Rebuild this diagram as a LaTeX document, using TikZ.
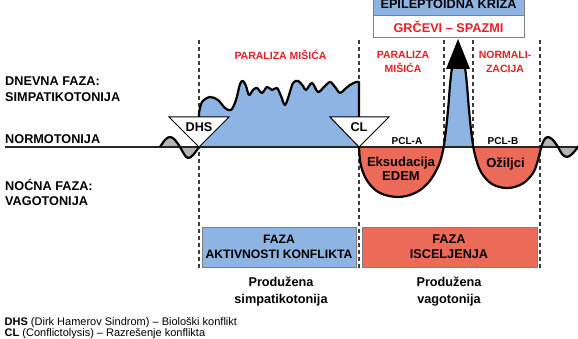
\documentclass[tikz,border=0pt]{standalone}
\usepackage{fontspec}
\setmainfont{Liberation Sans}
\definecolor{fblue}{RGB}{141,180,226}
\definecolor{fred}{RGB}{236,106,88}
\definecolor{tred}{RGB}{232,30,40}
\definecolor{fgray}{RGB}{180,180,180}
\definecolor{lgray}{RGB}{60,60,60}
\begin{document}
\begin{tikzpicture}[x=1pt,y=-1pt,
  big/.style={font=\bfseries\fontsize{12.7}{16}\selectfont, inner sep=0pt},
  side/.style={big, anchor=west, align=left},
  redlbl/.style={font=\bfseries\fontsize{10.5}{14}\selectfont, text=tred, align=center, inner sep=0pt},
  pcl/.style={font=\bfseries\fontsize{10}{12}\selectfont, inner sep=0pt},
  curve/.style={line width=2.2pt, black, line join=round},
  vdash/.style={lgray, line width=1.4pt, dash pattern=on 4pt off 3pt},
  phase/.style={draw=gray, line width=0.8pt},
  tri/.style={draw=black, fill=white, line width=1pt, line join=miter},
  note/.style={font=\fontsize{11}{12}\selectfont, anchor=west, inner sep=0pt}]
\useasboundingbox (0,0) rectangle (578,339);
\clip (0,0) rectangle (578,339);

% dashed separators
\coordinate (d1t) at (199,40); \coordinate (d1b) at (199,268);
\coordinate (d2t) at (359,40); \coordinate (d2b) at (359,268);
\coordinate (d3t) at (444,40); \coordinate (d3b) at (444,147);
\coordinate (d4t) at (473,40); \coordinate (d4b) at (473,147);
\coordinate (d5t) at (540,40); \coordinate (d5b) at (540,268);
\foreach \i in {1,...,5} \draw[vdash] (d\i t) -- (d\i b);

% left gray wave
\def\lwave{plot[smooth,tension=0.7] coordinates {(160,147)(165,140)(170,137)(175,140)(180,147)(184,154)(188,158)(193,155)(199,147)}}
\fill[fgray] \lwave -- cycle;

% plateau
\def\plateau{(199,147) -- plot[smooth,tension=0.55] coordinates {(199,113)(202,102)(210,97)(218,100)(225,108)(231,110)(236,100)(240,84)(243,81)(246,86)(249,95)(253,90)(257,88)(262,93)(267,87)(272,90)(277,88)(281,96)(285,105)(289,95)(293,83)(298,81)(303,86)(306,90)(312,83)(318,92)(324,87)(330,82)(335,87)(340,93)(345,89)(350,85)(356,82)(359,82)} -- (359,147)}
\fill[fblue] \plateau -- cycle;

% right part
\def\rpath{plot[smooth,tension=0.6] coordinates {(359,147)(361,166)(368,182)(380,193)(398,197)(415,193)(428,183)(437,169)(442,155)(445,138)(448,110)(450,85)(452,67)} -- (465,67) -- plot[smooth,tension=0.6] coordinates {(465,67)(467,85)(469,110)(472,138)(475,155)(481,172)(492,184)(507,188)(522,184)(533,173)(538,160)(541,148)(544,140)(548,137)(553,140)(558,147)(562,154)(567,157)(572,154)(578,147)(582,140)}}
\begin{scope}
  \clip (359,147) rectangle (540,400);
  \fill[fred, even odd rule] \rpath -- (578,147) -- cycle;
\end{scope}
\begin{scope}
  \clip (359,0) rectangle (540,147);
  \fill[fblue, even odd rule] \rpath -- (578,147) -- cycle;
\end{scope}
\begin{scope}
  \clip (540,0) rectangle (578,400);
  \fill[fgray, even odd rule] \rpath -- (582,147) -- (540,147) -- cycle;
\end{scope}

% baseline
\coordinate (bl0) at (5,147); \coordinate (bl1) at (578,147);
\draw[black!85, line width=1.1pt] (bl0) -- (bl1);

% black curves
\draw[curve] \lwave;
\draw[curve] \plateau;
\draw[curve] \rpath;

% arrow head
\coordinate (tip) at (458,39);
\fill[black] (446,69) -- (tip) -- (470,69) -- cycle;

% triangles
\draw[tri] (169,117) -- (229,117) -- (199,147) -- cycle;
\node[big] (dhs) at (199,127) {DHS};
\draw[tri] (330,117) -- (389,117) -- (359,147) -- cycle;
\node[big] (cl) at (359,127) {CL};

% top boxes
\draw[phase, fill=fblue] (373,-10) rectangle (524,15);
\draw[phase, fill=white] (373,15) rectangle (524,37);
\node[big, anchor=base] (epi) at (448.5,9) {EPILEPTOIDNA KRIZA};
\node[big, text=tred] (grc) at (448.5,26.5) {GRČEVI – SPAZMI};

% side labels
\node[side] (dn) at (5,81) {DNEVNA FAZA:};
\node[side] (sim) at (5,97.5) {SIMPATIKOTONIJA};
\node[side] (nor) at (5,139) {NORMOTONIJA};
\node[side] (noc) at (5,185) {NOĆNA FAZA:};
\node[side] (vag) at (5,201) {VAGOTONIJA};

% red labels
\node[redlbl] (par1) at (280.5,55) {PARALIZA MIŠIĆA};
\node[redlbl] (par2) at (403,62) {PARALIZA\\MIŠIĆA};
\node[redlbl] (norm) at (505,62) {NORMALI-\\ZACIJA};

\node[pcl] (pcla) at (407,141) {PCL-A};
\node[pcl] (pclb) at (503,141) {PCL-B};
\node[big, align=center, font=\bfseries\fontsize{13}{14.5}\selectfont] (eks) at (401,169) {Eksudacija\\EDEM};
\node[big, font=\bfseries\fontsize{13}{14.5}\selectfont] (ozi) at (505.5,164) {Ožiljci};

% phase boxes
\draw[phase, fill=fblue] (202,227) rectangle (356,267);
\node[big, align=center, font=\bfseries\fontsize{12.2}{15.5}\selectfont] (fak) at (279,247) {FAZA\\AKTIVNOSTI KONFLIKTA};
\draw[phase, fill=fred] (362,227) rectangle (537,267);
\node[big, align=center, font=\bfseries\fontsize{12.7}{15}\selectfont] (fis) at (449,246.5) {FAZA\\ISCELJENJA};

\node[big, align=center, font=\bfseries\fontsize{12.7}{17}\selectfont] (ps) at (281,291.5) {Produžena\\simpatikotonija};
\node[big, align=center, font=\bfseries\fontsize{12.7}{17}\selectfont] (pv) at (449,291.5) {Produžena\\vagotonija};

% notes
\node[note] (n1) at (4.5,323) {\textbf{DHS} (Dirk Hamerov Sindrom) – Biološki konflikt};
\node[note] (n2) at (4.5,334) {\textbf{CL} (Conflictolysis) – Razrešenje konflikta};
\end{tikzpicture}
\end{document}
